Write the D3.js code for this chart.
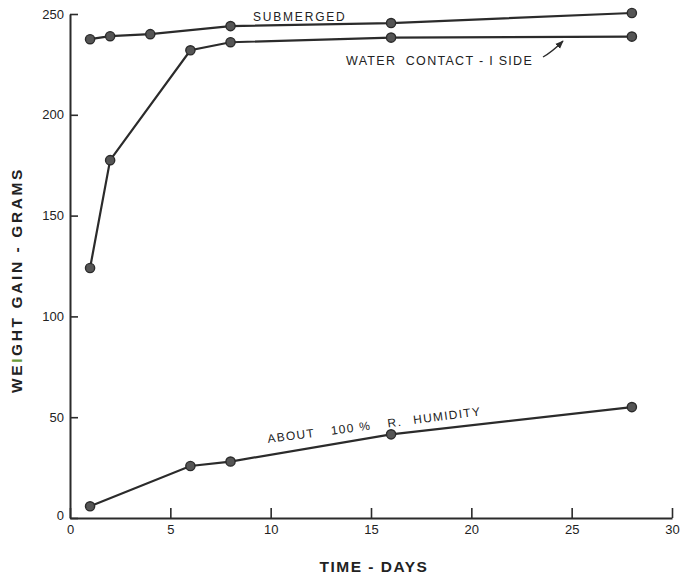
<!DOCTYPE html>
<html>
<head>
<meta charset="utf-8">
<script src="https://cdn.jsdelivr.net/npm/d3@7"></script>
<style>
  body { margin: 0; background: #fff; }
  svg { display: block; }
  text { font-family: "Liberation Sans", Arial, sans-serif; fill: #222; }
</style>
</head>
<body>
<div id="chart"></div>
<script>
// days of measurement
var submergedDays = [1, 2, 4, 8, 16, 28];
var submergedGain = [237.5, 239, 240, 244, 245.5, 250.5];

var contactDays = [1, 2, 6, 8, 16, 28];
var contactGain = [124, 177.5, 232, 236, 238.3, 238.8];

var humidityDays = [1, 6, 8, 16, 28];
var humidityGain = [5.8, 25.8, 28, 41.5, 55];

var xTicks = [0, 5, 10, 15, 20, 25, 30];
var yTicks = [0, 50, 100, 150, 200, 250];

var width = 680, height = 581;
var margin = {top: 14, right: 8, bottom: 63, left: 70};

var svg = d3.select("#chart").append("svg")
	.attr("width", width)
	.attr("height", height);

var x = d3.scaleLinear().domain([0, 30]).range([margin.left, width - margin.right]);
var y = d3.scaleLinear().domain([0, 250]).range([height - margin.bottom, margin.top]);

var ink = "#2b2b2b";

// axes, ticks pointing inward
var xAxis = svg.append("g")
	.attr("transform", "translate(0," + y(0) + ")")
	.call(d3.axisBottom(x).tickValues(xTicks).tickSizeInner(-10).tickSizeOuter(0).tickPadding(7));

var yAxis = svg.append("g")
	.attr("transform", "translate(" + x(0) + ",0)")
	.call(d3.axisLeft(y).tickValues(yTicks).tickSizeInner(-8).tickSizeOuter(0).tickPadding(6));

[xAxis, yAxis].forEach(function(g) {
	g.select(".domain").attr("stroke", ink).attr("stroke-width", 2);
	g.selectAll(".tick line").attr("stroke", ink).attr("stroke-width", 1.6);
	g.selectAll(".tick text")
		.style("font-family", "'Liberation Sans', Arial, sans-serif")
		.style("font-size", "13px")
		.attr("fill", "#333");
});

yAxis.selectAll(".tick text").filter(function(d) { return d === 0; }).attr("dy", "0.1em");

// axis titles
svg.append("text")
	.attr("x", 374).attr("y", 572)
	.attr("text-anchor", "middle")
	.style("font-weight", "bold")
	.style("font-size", "15.5px")
	.style("letter-spacing", "1.5px")
	.text("TIME - DAYS");

var yTitle = svg.append("text")
	.attr("transform", "translate(22,280) rotate(-90)")
	.attr("text-anchor", "middle")
	.style("font-weight", "bold")
	.style("font-size", "15.5px")
	.style("letter-spacing", "2.6px");
yTitle.append("tspan").text("WE");
yTitle.append("tspan").attr("fill", "#6a9a3a").text("I");
yTitle.append("tspan").text("GHT GAIN - GRAMS");

// series
var series = [
	{days: submergedDays, gain: submergedGain},
	{days: contactDays, gain: contactGain},
	{days: humidityDays, gain: humidityGain}
];

var line = d3.line()
	.x(function(d) { return x(d[0]); })
	.y(function(d) { return y(d[1]); });

series.forEach(function(s) {
	var pts = d3.zip(s.days, s.gain);

	svg.append("path")
		.datum(pts)
		.attr("d", line)
		.attr("fill", "none")
		.attr("stroke", ink)
		.attr("stroke-width", 2.2);

	svg.selectAll(null)
		.data(pts)
		.enter()
		.append("circle")
		.attr("cx", function(d) { return x(d[0]); })
		.attr("cy", function(d) { return y(d[1]); })
		.attr("r", 4.6)
		.attr("fill", "#555")
		.attr("stroke", ink)
		.attr("stroke-width", 1.4);
});

// labels
svg.append("text")
	.attr("x", 253).attr("y", 21)
	.style("font-size", "12px")
	.style("letter-spacing", "1.8px")
	.text("SUBMERGED");

svg.append("text")
	.attr("x", 346).attr("y", 65)
	.style("font-size", "12.5px")
	.style("letter-spacing", "1.3px")
	.attr("xml:space", "preserve")
	.text("WATER  CONTACT - I SIDE");

// little arrow pointing at the water-contact line
var defs = svg.append("defs");
defs.append("marker")
	.attr("id", "arrowHead")
	.attr("viewBox", "0 0 10 10")
	.attr("refX", 9).attr("refY", 5)
	.attr("markerWidth", 6).attr("markerHeight", 6)
	.attr("orient", "auto")
	.append("path")
	.attr("d", "M0,1 L10,5 L0,9 Z")
	.attr("fill", ink);

svg.append("path")
	.attr("d", "M543,57 Q552,52 563,41")
	.attr("fill", "none")
	.attr("stroke", ink)
	.attr("stroke-width", 1.4)
	.attr("marker-end", "url(#arrowHead)");

// humidity label, words spaced out along the slope
var humWords = ["ABOUT", "100 %", "R.", "HUMIDITY"];
var humOffsets = [0, 64, 121, 147];
var hum = svg.append("text")
	.attr("transform", "translate(268,443) rotate(-7.4)")
	.style("font-size", "12px")
	.style("letter-spacing", "1.3px");
hum.selectAll("tspan")
	.data(humWords)
	.enter()
	.append("tspan")
	.attr("x", function(d, i) { return humOffsets[i]; })
	.attr("y", 0)
	.text(function(d) { return d; });
</script>
</body>
</html>
